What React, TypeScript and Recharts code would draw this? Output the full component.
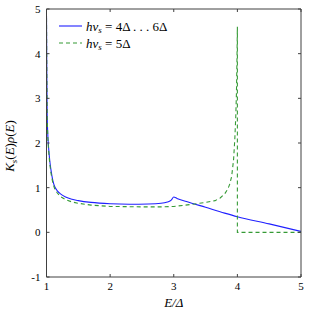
import { LineChart, Line, XAxis, YAxis } from 'recharts';

// E/Δ values and K_s(E)ρ(E)
const blueE = [1.0, 1.005, 1.01, 1.02, 1.03, 1.05, 1.07, 1.1, 1.13, 1.17, 1.22, 1.3, 1.4, 1.5, 1.7, 2.0, 2.3, 2.6, 2.8, 2.9, 2.96, 3.0, 3.05, 3.2, 3.5, 3.8, 4.0, 4.5, 5.0];
const blueK = [4.85, 3.6, 2.7, 2.2, 1.95, 1.62, 1.4, 1.16, 1.02, 0.93, 0.86, 0.79, 0.74, 0.71, 0.67, 0.64, 0.63, 0.635, 0.65, 0.68, 0.72, 0.79, 0.76, 0.69, 0.56, 0.43, 0.35, 0.19, 0.02];

const greenE = [1.0, 1.005, 1.01, 1.02, 1.03, 1.05, 1.07, 1.1, 1.13, 1.17, 1.22, 1.3, 1.4, 1.5, 1.7, 2.0, 2.5, 2.8, 3.0, 3.25, 3.5, 3.65, 3.73, 3.8, 3.85, 3.88, 3.91, 3.94, 3.96, 3.975, 3.985, 3.993, 4.0, 4.0, 5.0];
const greenK = [4.8, 3.5, 2.6, 2.15, 1.9, 1.55, 1.33, 1.1, 0.97, 0.88, 0.8, 0.73, 0.68, 0.65, 0.61, 0.58, 0.57, 0.57, 0.58, 0.62, 0.67, 0.71, 0.77, 0.86, 0.97, 1.08, 1.25, 1.62, 2.1, 2.6, 3.1, 3.8, 4.6, 0, 0];

const xTicks = [1, 2, 3, 4, 5];
const yTicks = [-1, 0, 1, 2, 3, 4, 5];

const blueData = blueE.map((e, i) => ({ e, k: blueK[i] }));
const greenData = greenE.map((e, i) => ({ e, k: greenK[i] }));

const FONT = '"Liberation Serif", "DejaVu Serif", serif';
const BLUE = '#2020ff';
const GREEN = '#359a35';
const AXIS = '#404040';

const hidden = () => <g />;

function LegendBox() {
  const row = (color: string, dash: string | undefined, rest: string, y: number) => (
    <g>
      <line x1={0} x2={23} y1={y} y2={y} stroke={color} strokeWidth={1.1} strokeDasharray={dash} />
      <text x={27} y={y + 4.5} fontFamily={FONT} fontSize={13} fill="#000">
        <tspan fontStyle="italic">hν</tspan>
        <tspan fontStyle="italic" fontSize={9} dy={2.5}>s</tspan>
        <tspan dy={-2.5}>{' = ' + rest}</tspan>
      </text>
    </g>
  );
  return (
    <svg width={150} height={32} style={{ display: 'block' }}>
      {row(BLUE, undefined, '4Δ . . . 6Δ', 6)}
      {row(GREEN, '4 3', '5Δ', 23)}
    </svg>
  );
}

function YLabel(props: any) {
  const vb = props.viewBox || {};
  const cx = 14;
  const cy = vb.y + vb.height / 2 + 3;
  return (
    <text x={cx} y={cy} transform={`rotate(-90 ${cx} ${cy})`} textAnchor="middle" fontFamily={FONT} fontSize={13} fill="#000">
      <tspan fontStyle="italic">K</tspan>
      <tspan fontStyle="italic" fontSize={9} dy={2.5}>s</tspan>
      <tspan dy={-2.5}>(</tspan>
      <tspan fontStyle="italic">E</tspan>
      <tspan>)</tspan>
      <tspan fontStyle="italic">ρ</tspan>
      <tspan>(</tspan>
      <tspan fontStyle="italic">E</tspan>
      <tspan>)</tspan>
    </text>
  );
}

export default function App() {
  return (
    <div style={{ position: 'absolute', left: 0, top: 0, width: 309, height: 315 }}>
      <LineChart width={309} height={315} margin={{ top: 8, right: 7, bottom: 8, left: 0 }}>
        <XAxis
          dataKey="e"
          type="number"
          domain={[1, 5]}
          ticks={xTicks}
          allowDataOverflow
          height={30}
          stroke={AXIS}
          tickSize={-3}
          tickMargin={8}
          tick={{ fontFamily: FONT, fontSize: 11, fill: '#000' }}
          label={{ value: 'E/Δ', position: 'insideBottom', offset: 0, fontFamily: FONT, fontSize: 13, fill: '#000', fontStyle: 'italic' }}
        />
        <XAxis
          xAxisId="top"
          orientation="top"
          dataKey="e"
          type="number"
          domain={[1, 5]}
          ticks={xTicks}
          allowDataOverflow
          height={1}
          stroke={AXIS}
          tickSize={-3}
          tick={hidden}
        />
        <YAxis
          type="number"
          domain={[-1, 5]}
          ticks={yTicks}
          allowDataOverflow
          width={46.5}
          stroke={AXIS}
          tickSize={-3}
          tickMargin={9}
          tick={{ fontFamily: FONT, fontSize: 11, fill: '#000' }}
          label={<YLabel />}
        />
        <YAxis
          yAxisId="right"
          orientation="right"
          type="number"
          domain={[-1, 5]}
          ticks={yTicks}
          allowDataOverflow
          width={1}
          stroke={AXIS}
          tickSize={-3}
          tick={hidden}
        />
        <Line data={blueData} dataKey="k" type="monotone" stroke={BLUE} strokeWidth={1.1} dot={false} isAnimationActive={false} />
        <Line data={greenData} dataKey="k" type="linear" stroke={GREEN} strokeWidth={1.1} strokeDasharray="4 3" dot={false} isAnimationActive={false} />
      </LineChart>
      <div style={{ position: 'absolute', left: 59, top: 20 }}>
        <LegendBox />
      </div>
    </div>
  );
}
